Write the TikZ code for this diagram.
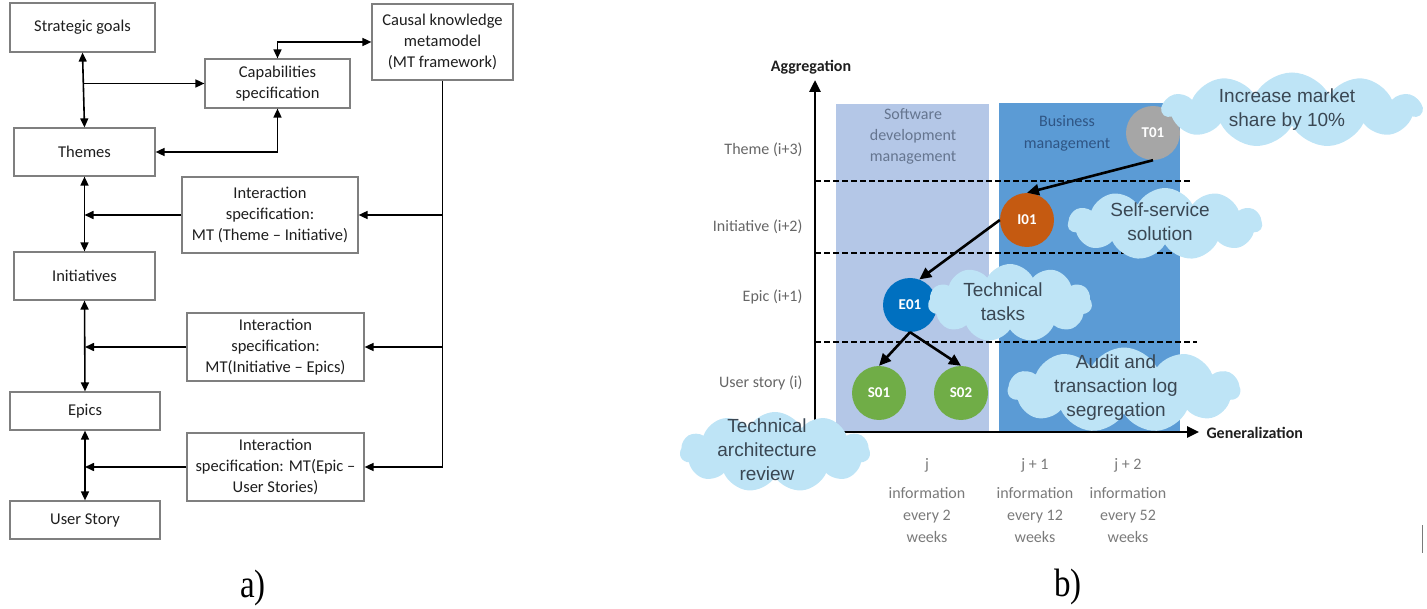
\documentclass[tikz,border=0pt]{standalone}
\usepackage{fontspec}
\setmainfont{Carlito}
\newfontfamily\cloudfont{Liberation Sans}
\newfontfamily\capfont{Liberation Serif}
\usetikzlibrary{arrows.meta,shapes.symbols}
\definecolor{boxline}{HTML}{7F7F7F}
\definecolor{txtdark}{HTML}{1E1E1E}
\definecolor{panelL}{HTML}{B4C7E7}
\definecolor{panelD}{HTML}{5B9BD5}
\definecolor{cloudc}{RGB}{190,228,246}
\definecolor{cloudtext}{HTML}{3A4753}
\definecolor{rowgray}{HTML}{666666}
\definecolor{botgray}{HTML}{7A7A7A}
\definecolor{swtext}{HTML}{65758F}
\definecolor{bmtext}{HTML}{2F5584}
\definecolor{cT}{HTML}{A6A6A6}
\definecolor{cI}{HTML}{C55A11}
\definecolor{cE}{HTML}{0070C0}
\definecolor{cS}{HTML}{70AD47}
\begin{document}
\begin{tikzpicture}[x=1pt,y=-1pt,
  box/.style={draw=boxline, line width=1.2pt, fill=white, align=center,
    font=\fontsize{16.5}{21}\selectfont, text=txtdark, inner sep=2pt},
  lar/.style={line width=1.6pt, -{Triangle[length=9pt,width=8pt]}},
  dar/.style={line width=1.6pt, {Triangle[length=9pt,width=8pt]}-{Triangle[length=9pt,width=8pt]}},
  axisline/.style={line width=2.8pt, -{Triangle[length=12pt,width=11pt]}},
  dashline/.style={line width=2.6pt, dash pattern=on 6pt off 3pt},
  carrow/.style={line width=2.6pt, -{Triangle[length=12pt,width=11pt]}},
  circ/.style={circle, minimum size=54pt, inner sep=0pt, text=white,
    font=\bfseries\fontsize{15}{15}\selectfont},
  rowlab/.style={anchor=east, text=rowgray, font=\fontsize{16}{21}\selectfont},
  bottxt/.style={text=botgray, align=center, font=\fontsize{16}{22}\selectfont},
  axlab/.style={font=\bfseries\fontsize{16}{16}\selectfont, text=txtdark},
  mycloud/.style={cloud, cloud puffs=11, cloud puff arc=125, cloud ignores aspect,
    fill=cloudc, draw=none, inner sep=0pt},
  cloudtxt/.style={font=\cloudfont\fontsize{19}{24}\selectfont, text=cloudtext, align=center},
  captxt/.style={font=\capfont\fontsize{33}{33}\selectfont, text=black}
]
\useasboundingbox (0,0) rectangle (1427,609);

% ---------------- a) ----------------
\node[box, minimum width=145, minimum height=49] (sg) at (82.5,27.5) {Strategic goals};
\node[box, minimum width=145, minimum height=49] (cap) at (277.5,83.5) {Capabilities\\specification};
\node[box, minimum width=141, minimum height=76] (ckm) at (442.5,42) {Causal knowledge\\metamodel\\(MT framework)};
\node[box, minimum width=141, minimum height=48] (th) at (84.5,152) {Themes};
\node[box, minimum width=176, minimum height=76] (int1) at (270,215) {Interaction\\specification:\\MT (Theme -- Initiative)};
\node[box, minimum width=141, minimum height=48] (ini) at (84.5,276) {Initiatives};
\node[box, minimum width=177, minimum height=68] (int2) at (275.5,347) {Interaction\\specification:\\MT(Initiative -- Epics)};
\node[box, minimum width=150, minimum height=38] (ep) at (85,411) {Epics};
\node[box, minimum width=177, minimum height=68] (int3) at (275.5,467) {Interaction\\specification: MT(Epic --\\User Stories)};
\node[box, minimum width=150, minimum height=38] (us) at (85,520) {User Story};

\draw[dar] (sg.south) -- (th.north);
\draw[lar] (sg.south |- cap.west) -- (cap.west);
\draw[dar] (cap.north) |- (ckm.west);
\draw[dar] (cap.south) |- (th.east);
\draw[lar] (ckm.south) |- (int3.east);
\draw[lar] (ckm.south |- int1.east) -- (int1.east);
\draw[lar] (ckm.south |- int2.east) -- (int2.east);
\draw[dar] (th.south) -- (ini.north);
\draw[lar] (int1.west) -- (th.south |- int1.west);
\draw[dar] (ini.south) -- (ep.north);
\draw[lar] (int2.west) -- (ep.north |- int2.west);
\draw[dar] (ep.south) -- (us.north);
\draw[lar] (int3.west) -- (ep.south |- int3.west);

\node[captxt] (capa) at (253,588) {\scalebox{1}[1.2]{a)}};

% ---------------- b) ----------------
\fill[panelL] (836,104) rectangle (989,432);
\fill[panelD] (999,103) rectangle (1180,432);

\node[text=swtext, align=center, font=\fontsize{16}{21}\selectfont] (swm) at (913,136) {Software\\development\\management};
\node[text=bmtext, align=center, font=\fontsize{16}{22}\selectfont] (bm) at (1067,133) {Business\\management};

\coordinate (d1a) at (815,181); \coordinate (d1b) at (1190,181);
\coordinate (d2a) at (815,253); \coordinate (d2b) at (1190,253);
\coordinate (d3a) at (815,342); \coordinate (d3b) at (1197,342);
\draw[dashline] (d1a) -- (d1b);
\draw[dashline] (d2a) -- (d2b);
\draw[dashline] (d3a) -- (d3b);

\coordinate (O) at (815,432);
\coordinate (ytip) at (815,80);
\coordinate (xtip) at (1199,432);
\draw[axisline] (O) -- (ytip);
\draw[axisline] (O) -- (xtip);
\node[axlab] (agg) at (811,67) {Aggregation};
\node[axlab, anchor=west] (gen) at (1203,433) {Generalization};

\node[rowlab] (r3) at (806,150) {Theme (i+3)};
\node[rowlab] (r2) at (806,227) {Initiative (i+2)};
\node[rowlab] (r1) at (806,297) {Epic (i+1)};
\node[rowlab] (r0) at (806,383) {User story (i)};

\node[circ, fill=cT] (T01) at (1153,133) {T01};
\node[circ, fill=cI] (I01) at (1027,220) {I01};
\node[circ, fill=cE] (E01) at (910,305) {E01};
\node[circ, fill=cS] (S01) at (879,393) {S01};
\node[circ, fill=cS] (S02) at (961,393) {S02};

\draw[carrow] (T01.south) -- (I01.north);
\draw[carrow] (I01.west) -- (E01.70);
\draw[carrow] (E01.south) -- (S01.north);
\draw[carrow] (E01.south) -- (S02.north);

\node[mycloud, minimum width=259, minimum height=75] (c1) at (1292,110) {};
\node[cloudtxt] (t1) at (1287,110) {Increase market\\share by 10\%};
\node[mycloud, minimum width=194, minimum height=72] (c2) at (1165,224) {};
\node[cloudtxt] (t2) at (1160,222) {Self-service\\solution};
\node[mycloud, minimum width=164, minimum height=78] (c3) at (1010,303) {};
\node[cloudtxt] (t3) at (1003,302) {Technical\\tasks};
\node[mycloud, minimum width=232, minimum height=85] (c4) at (1124,390) {};
\node[cloudtxt] (t4) at (1116,388) {Audit and\\transaction log\\segregation};
\node[mycloud, minimum width=190, minimum height=80] (c5) at (775,452) {};
\node[cloudtxt] (t5) at (767,450) {Technical\\architecture\\review};

\node[bottxt] (j0) at (927,465) {j};
\node[bottxt] (j1) at (1035,465) {j + 1};
\node[bottxt] (j2) at (1128,465) {j + 2};
\node[bottxt] (f0) at (927,515) {information\\every 2\\weeks};
\node[bottxt] (f1) at (1035,515) {information\\every 12\\weeks};
\node[bottxt] (f2) at (1128,515) {information\\every 52\\weeks};

\coordinate (m1) at (1422,525); \coordinate (m2) at (1422,553);
\draw[line width=1pt, botgray] (m1) -- (m2);

\node[captxt] (capb) at (1068,587) {\scalebox{1}[1.2]{b)}};
\end{tikzpicture}
\end{document}
